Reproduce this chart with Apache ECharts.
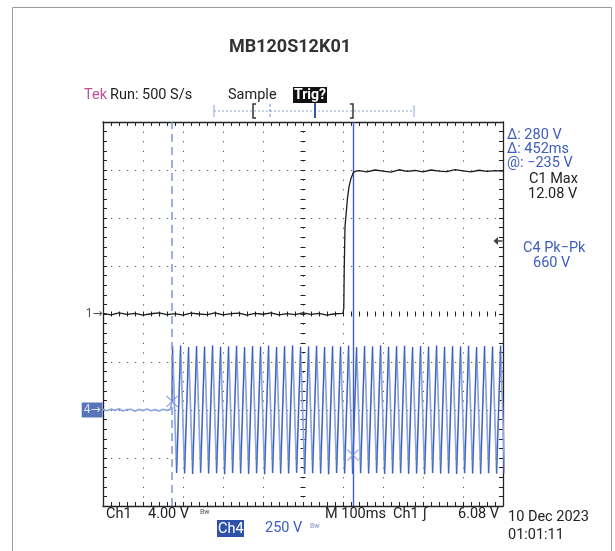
<!DOCTYPE html>
<html>
<head>
<meta charset="utf-8">
<script src="https://cdn.jsdelivr.net/npm/echarts@6/dist/echarts.min.js"></script>
<style>
  html, body { margin: 0; padding: 0; background: #fff; }
  #chart { width: 615px; height: 551px; }
</style>
</head>
<body>
<div id="chart"></div>
<script>
// Ch1 trace: time (ms) / volts, 4 V/div
const ch1Time = [0, 20, 40, 60, 80, 100, 120, 140, 160, 180, 200, 220, 240, 260, 280, 300,
  320, 340, 360, 380, 400, 420, 440, 460, 480, 500, 520, 540, 560, 580, 600,
  602, 603, 605, 608, 611, 615, 620, 626, 632,
  640, 660, 680, 700, 720, 740, 760, 780, 800, 820, 840, 860, 880, 900, 920, 940, 960, 980, 1000];
const ch1Volts = [0.05, -0.08, 0.1, -0.04, 0.06, -0.1, 0.02, 0.09, -0.06, 0.04, -0.09, 0.07, 0.0, -0.05, 0.1, -0.07,
  0.03, 0.08, -0.1, 0.05, -0.02, 0.09, -0.08, 0.04, -0.06, 0.1, -0.03, 0.06, -0.09, 0.02, 0.05,
  0.5, 3.5, 7.3, 8.4, 9.6, 10.6, 11.3, 11.8, 11.9,
  11.95, 11.85, 12.0, 11.9, 11.82, 12.02, 11.88, 11.96, 11.84, 12.0, 11.9, 11.86, 12.03, 11.92, 11.85, 11.98, 11.88, 11.94, 11.9];

// Ch4 trace before the AC appears: time (ms) / volts, 250 V/div
const ch4PreTime = [0, 10, 20, 30, 40, 50, 60, 70, 80, 90, 100, 110, 120, 130, 140, 150, 160, 168, 171, 172.5];
const ch4PreVolts = [3, -4, 5, -2, 6, -5, 2, 4, -6, 3, -3, 5, -4, 2, -5, 4, -2, 3, 10, 45];

// Ch4 peaks / troughs, one every half cycle of the 50 Hz line
const ch4FirstPeakMs = 174;
const ch4HalfCycleMs = 10;
const ch4Extremes = [
  332, -328, 335, -330, 328, -333, 333, -327, 330, -331, 336, -329, 329, -334, 331, -328, 334, -330, 327, -332,
  333, -329, 330, -335, 335, -328, 328, -331, 332, -330, 336, -327, 329, -333, 331, -329, 334, -331, 328, -334,
  332, -328, 330, -330, 335, -332, 327, -329, 333, -331, 331, -328, 336, -333, 329, -330, 332, -329, 334, -332,
  328, -330, 333, -334, 330, -328, 335, -331, 329, -330, 332, -333, 331, -329, 334, -330, 328, -332, 333, -329,
  330, -331, 335, -330];

// cursors (time ms, Ch4 volts) and trigger level (Ch1 volts)
const cursorTime = [172.5, 625];
const cursorVolts = [45, -235];
const trigLevel = 6.08;

const ch1Data = ch1Time.map((t, i) => [t, ch1Volts[i]]);
const ch4Data = ch4PreTime.map((t, i) => [t, ch4PreVolts[i]])
  .concat(ch4Extremes.map((v, i) => [ch4FirstPeakMs + i * ch4HalfCycleMs, v]));
const ch4Rising = [];
for (let i = 1; i < ch4Data.length; i++) {
  if (ch4Data[i][1] - ch4Data[i - 1][1] > 200) {
    ch4Rising.push(ch4Data[i - 1], ch4Data[i], [ch4Data[i][0], null]);
  }
}

const BLUE = '#3d5cbd';
const FONT = 'Roboto, "DejaVu Sans", sans-serif';
const FS = 14.5;

function txt(x, y, text, color, size, weight) {
  return {
    type: 'text', x: x, y: y, silent: true,
    style: {
      text: text, fill: color || '#222', fontSize: size || FS, fontWeight: weight || 'normal',
      fontFamily: FONT, align: 'left', textAlign: 'left', verticalAlign: 'middle', textVerticalAlign: 'middle'
    }
  };
}
function seg(x1, y1, x2, y2, color, width, dash) {
  return {
    type: 'line', silent: true, shape: { x1: x1, y1: y1, x2: x2, y2: y2 },
    style: { stroke: color, lineWidth: width || 1, lineDash: dash || null }
  };
}

const tickStyle = { color: '#222', width: 1 };
const edgeAxis = (pos, extra) => Object.assign({
  type: 'value', position: pos, min: 0, max: 1000, interval: 100,
  axisLine: { show: true, onZero: false, lineStyle: { color: '#222', width: 1.3 } },
  axisTick: { show: true, inside: true, length: 4, lineStyle: tickStyle },
  minorTick: { show: true, splitNumber: 5, length: 4, lineStyle: tickStyle },
  axisLabel: { show: false },
  splitLine: { show: false }
}, extra || {});

const chart = echarts.init(document.getElementById('chart'), null, { renderer: 'canvas' });

chart.setOption({
  animation: false,
  backgroundColor: '#fff',
  grid: { left: 103, top: 122, width: 400, height: 384, outerBoundsMode: 'none' },
  xAxis: [
    edgeAxis('bottom', { splitLine: { show: true, lineStyle: { type: [1.2, 8.4], color: '#555', width: 1 } } }),
    edgeAxis('top'),
    // centre graticule line, ticks both sides
    edgeAxis('bottom', {
      axisLine: { show: false, onZero: true, onZeroAxisIndex: 0 },
      axisTick: { show: true, inside: false, length: 2.5, lineStyle: tickStyle },
      minorTick: { show: true, splitNumber: 5, length: 2.5, lineStyle: tickStyle }
    }),
    edgeAxis('bottom', {
      axisLine: { show: false, onZero: true, onZeroAxisIndex: 0 },
      axisTick: { show: true, inside: true, length: 2.5, lineStyle: tickStyle },
      minorTick: { show: true, splitNumber: 5, length: 2.5, lineStyle: tickStyle }
    }),
    { type: 'value', min: -500, max: 500, show: false }
  ],
  yAxis: [
    {
      type: 'value', position: 'left', min: -16, max: 16, interval: 4,
      axisLine: { show: true, onZero: false, lineStyle: { color: '#222', width: 1.3 } },
      axisTick: { show: true, inside: true, length: 4, lineStyle: tickStyle },
      minorTick: { show: true, splitNumber: 5, length: 4, lineStyle: tickStyle },
      axisLabel: { show: false },
      splitLine: { show: true, lineStyle: { type: [1.2, 6.8], color: '#555', width: 1 } }
    },
    {
      type: 'value', position: 'right', min: -500, max: 1500, interval: 250,
      axisLine: { show: true, onZero: false, lineStyle: { color: '#222', width: 1.3 } },
      axisTick: { show: true, inside: true, length: 4, lineStyle: tickStyle },
      minorTick: { show: true, splitNumber: 5, length: 4, lineStyle: tickStyle },
      axisLabel: { show: false },
      splitLine: { show: false }
    },
    {
      type: 'value', position: 'left', min: -16, max: 16, interval: 4,
      axisLine: { show: false, onZero: true, onZeroAxisIndex: 4 },
      axisTick: { show: true, inside: false, length: 2.5, lineStyle: tickStyle },
      minorTick: { show: true, splitNumber: 5, length: 2.5, lineStyle: tickStyle },
      axisLabel: { show: false }, splitLine: { show: false }
    },
    {
      type: 'value', position: 'left', min: -16, max: 16, interval: 4,
      axisLine: { show: false, onZero: true, onZeroAxisIndex: 4 },
      axisTick: { show: true, inside: true, length: 2.5, lineStyle: tickStyle },
      minorTick: { show: true, splitNumber: 5, length: 2.5, lineStyle: tickStyle },
      axisLabel: { show: false }, splitLine: { show: false }
    }
  ],
  series: [
    {
      name: 'Ch4', type: 'line', xAxisIndex: 0, yAxisIndex: 1, data: ch4Data,
      showSymbol: false, z: 3,
      lineStyle: { color: '#8ea5e0', width: 1.7 },
      markLine: {
        silent: true, symbol: ['none', 'none'], label: { show: false },
        data: [
          { xAxis: cursorTime[0], lineStyle: { type: [8, 5], color: '#7d97d8', width: 1.5 } },
          { xAxis: cursorTime[1], lineStyle: { type: 'solid', color: '#3d62d4', width: 1.4 } }
        ]
      }
    },
    {
      name: 'Ch4 rise', type: 'line', xAxisIndex: 0, yAxisIndex: 1, data: ch4Rising,
      showSymbol: false, connectNulls: false, z: 4,
      lineStyle: { color: '#3555b5', width: 1 }
    },
    {
      name: 'Ch1', type: 'line', xAxisIndex: 0, yAxisIndex: 0, data: ch1Data,
      showSymbol: false, z: 5,
      lineStyle: { color: '#1c1c1c', width: 1.3 }
    },
    {
      name: 'cursors', type: 'scatter', xAxisIndex: 0, yAxisIndex: 1, z: 6,
      data: cursorTime.map((t, i) => [t, cursorVolts[i]]),
      symbol: 'path://M0,0L10,10M10,0L0,10', symbolSize: 11,
      itemStyle: { color: 'rgba(0,0,0,0)', borderColor: '#6f8bd6', borderWidth: 1.2 }
    },
    {
      name: 'trigger', type: 'scatter', xAxisIndex: 0, yAxisIndex: 0, z: 6, clip: false,
      data: [[1000, trigLevel]],
      symbol: 'path://M0,4L5,0L5,8ZM5,3.2L10,3.2L10,4.8L5,4.8Z', symbolSize: [9, 8], symbolOffset: [-5, 0],
      itemStyle: { color: '#111' }
    },
    {
      name: 'ch1 marker', type: 'scatter', xAxisIndex: 0, yAxisIndex: 0, z: 6, clip: false,
      data: [[0, 0]], symbolSize: 1, itemStyle: { color: 'rgba(0,0,0,0)' },
      label: { show: true, position: 'left', distance: 0, formatter: '1\u2192', color: '#222', fontSize: 12, fontFamily: FONT }
    },
    {
      name: 'ch4 marker', type: 'scatter', xAxisIndex: 0, yAxisIndex: 1, z: 6, clip: false,
      data: [[0, 0]], symbolSize: 1, itemStyle: { color: 'rgba(0,0,0,0)' },
      label: {
        show: true, position: 'left', distance: 0, formatter: '4\u2192', color: '#fff', fontSize: 12,
        fontFamily: FONT, backgroundColor: '#2f52a8', padding: [2, 2, 1, 2]
      }
    }
  ],
  graphic: [
    { type: 'rect', silent: true, shape: { x: 12.5, y: 7.5, width: 599, height: 560 },
      style: { fill: 'none', stroke: '#9c9c9c', lineWidth: 1 } },
    {
      type: 'text', x: 290, y: 47, silent: true,
      style: { text: 'MB120S12K01', fill: '#333', fontSize: 18, fontWeight: 'bold', fontFamily: FONT,
        align: 'center', textAlign: 'center', verticalAlign: 'middle', textVerticalAlign: 'middle' }
    },
    txt(84, 95, 'Tek', '#c24f96'),
    txt(110, 95, 'Run: 500 S/s', '#222'),
    txt(228, 95, 'Sample', '#222'),
    { type: 'rect', silent: true, shape: { x: 293, y: 87, width: 34, height: 16 }, style: { fill: '#111' } },
    txt(294, 95, 'Trig?', '#fff', 14, 'bold'),
    // record view bar
    seg(214, 111, 414, 111, '#8ea3dc', 1, [2, 2]),
    seg(214, 105, 214, 117, '#8ea3dc', 1),
    seg(414, 105, 414, 117, '#8ea3dc', 1),
    seg(270, 104, 270, 118, '#6d8bd6', 1, [3, 2]),
    seg(315, 103, 315, 118, '#3355aa', 2),
    { type: 'polyline', silent: true, shape: { points: [[256, 104], [253, 104], [253, 118], [256, 118]] },
      style: { stroke: '#333', lineWidth: 1.5, fill: null } },
    { type: 'polyline', silent: true, shape: { points: [[350, 104], [353, 104], [353, 118], [350, 118]] },
      style: { stroke: '#333', lineWidth: 1.5, fill: null } },
    // right readouts
    txt(507, 135, '\u0394: 280 V', BLUE),
    txt(507, 149, '\u0394: 452ms', BLUE),
    txt(507, 163, '@: \u2212235 V', BLUE),
    txt(529, 179, 'C1 Max', '#222'),
    txt(528, 194, '12.08 V', '#222'),
    txt(523, 248, 'C4 Pk\u2212Pk', BLUE),
    txt(533, 263, '660 V', BLUE),
    // bottom readouts
    txt(106, 514, 'Ch1', '#222'),
    txt(148, 514, '4.00 V', '#222'),
    txt(200, 512, 'Bw', '#555', 7),
    txt(325, 514, 'M 100ms', '#222'),
    txt(393, 514, 'Ch1', '#222'),
    txt(423, 514, '\u222B', '#222'),
    txt(458, 514, '6.08 V', '#222'),
    txt(508, 517, '10 Dec 2023', '#222'),
    txt(508, 535, '01:01:11', '#222'),
    { type: 'rect', silent: true, shape: { x: 217, y: 520, width: 27, height: 17 }, style: { fill: '#2f52a8' } },
    txt(218, 529, 'Ch4', '#fff'),
    txt(265, 528, '250 V', BLUE),
    txt(310, 526, 'Bw', '#7d93d3', 7)
  ]
});
</script>
</body>
</html>
